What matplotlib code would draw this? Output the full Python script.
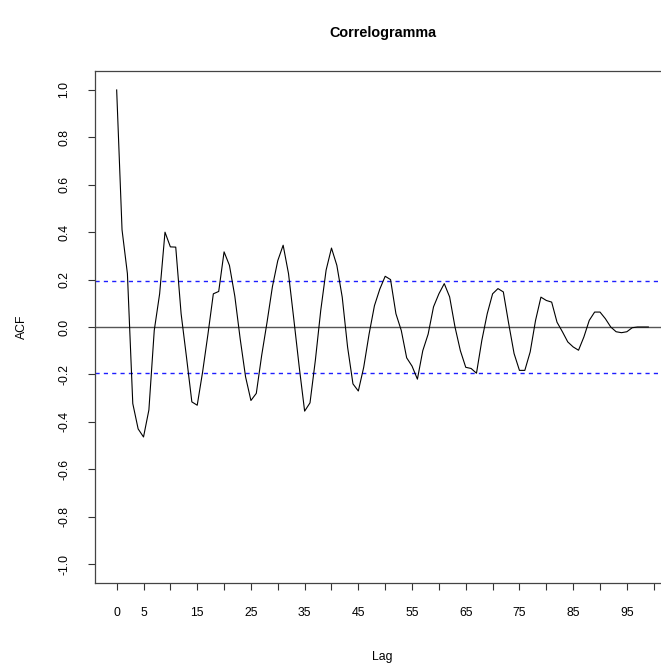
import matplotlib
matplotlib.use("Agg")
import matplotlib.pyplot as plt
import numpy as np

plt.rcParams['font.family'] = ['Liberation Sans', 'DejaVu Sans']

# ---- data ----
lags = list(range(0, 100))
acf = [1.00, 0.41, 0.225, -0.323, -0.43, -0.464, -0.35, -0.014, 0.14, 0.40,
       0.338, 0.337, 0.056, -0.127, -0.316, -0.33, -0.19, -0.03, 0.14, 0.15,
       0.317, 0.26, 0.13, -0.05, -0.21, -0.31, -0.28, -0.12, 0.02, 0.17,
       0.28, 0.345, 0.225, 0.03, -0.17, -0.355, -0.32, -0.14, 0.07, 0.24,
       0.333, 0.26, 0.126, -0.085, -0.24, -0.27, -0.17, -0.03, 0.09, 0.16,
       0.214, 0.20, 0.056, -0.015, -0.13, -0.165, -0.22, -0.10, -0.03, 0.085,
       0.14, 0.183, 0.127, 0.0, -0.10, -0.17, -0.175, -0.195, -0.056, 0.056,
       0.14, 0.162, 0.148, 0.014, -0.112, -0.183, -0.183, -0.105, 0.028, 0.126,
       0.112, 0.105, 0.02, -0.02, -0.063, -0.084, -0.098, -0.042, 0.028, 0.063,
       0.063, 0.035, 0.0, -0.02, -0.024, -0.02, -0.003, 0.0, 0.0, 0.0]
conf_level = 0.196

x_ticks = list(range(0, 101, 5))
x_tick_labels = ["0", "5", "", "15", "", "25", "", "35", "", "45", "",
                 "55", "", "65", "", "75", "", "85", "", "95", ""]
y_ticks = [-1.0, -0.8, -0.6, -0.4, -0.2, 0.0, 0.2, 0.4, 0.6, 0.8, 1.0]
y_tick_labels = ["-1.0", "-0.8", "-0.6", "-0.4", "-0.2", "0.0",
                 "0.2", "0.4", "0.6", "0.8", "1.0"]

W, H = 661, 670
fig = plt.figure(figsize=(W / 100, H / 100), dpi=100)
left_px, right_px, top_px, bot_px = 95.4, 669.6, 71, 583
ax = fig.add_axes([left_px / W, (H - bot_px) / H,
                   (right_px - left_px) / W, (bot_px - top_px) / H])

ax.plot(lags, acf, color='black', lw=0.8, zorder=3)
ax.axhline(0, color='#555555', lw=1.0, zorder=2)
for c in (conf_level, -conf_level):
    ax.axhline(c, color='#1f1fff', lw=1.0, dashes=(3, 3), zorder=2)

ax.set_xlim(-3.96, 102.96)
ax.set_ylim(-1.08, 1.08)

ax.set_xticks(x_ticks)
ax.set_xticklabels(x_tick_labels, fontsize=8.8)
ax.set_yticks(y_ticks)
ax.set_yticklabels(y_tick_labels, fontsize=8.8, rotation=90, va='center')

ax.tick_params(axis='both', direction='out', length=5, width=0.8, color='#333333')
ax.tick_params(axis='x', pad=12)
ax.tick_params(axis='y', pad=13)

for s in ax.spines.values():
    s.set_color('#444444')
    s.set_linewidth(0.9)

fig.text(382.5 / W, 1 - 33 / H, "Correlogramma", ha='center', va='center',
         fontsize=10.4, fontweight='bold')
fig.text(382.5 / W, 1 - 657 / H, "Lag", ha='center', va='center', fontsize=8.8)
fig.text(22 / W, 1 - 327 / H, "ACF", ha='center', va='center', fontsize=8.8,
         rotation=90)

fig.savefig("out.png", dpi=100)
